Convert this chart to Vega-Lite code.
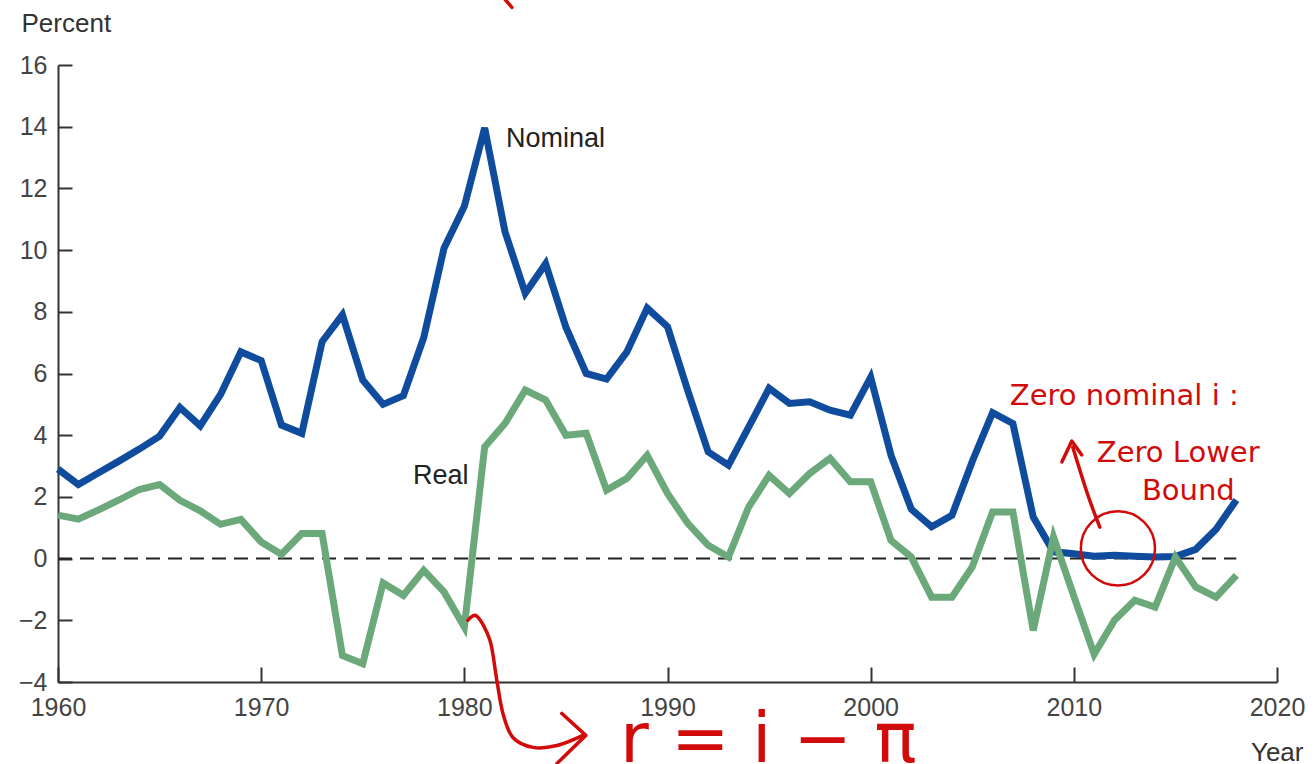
{
  "$schema": "https://vega.github.io/schema/vega-lite/v6.json",
  "width": 1219,
  "height": 617,
  "autosize": {"type": "none"},
  "padding": {"left": 58, "top": 65, "right": 39, "bottom": 82},
  "background": "white",
  "config": {"view": {"stroke": null}, "font": "Liberation Sans"},
  "datasets": {
    "series": [
      {"year": 1960, "value": 2.9, "series": "Nominal"},
      {"year": 1961, "value": 2.4, "series": "Nominal"},
      {"year": 1962, "value": 2.78, "series": "Nominal"},
      {"year": 1963, "value": 3.16, "series": "Nominal"},
      {"year": 1964, "value": 3.55, "series": "Nominal"},
      {"year": 1965, "value": 3.97, "series": "Nominal"},
      {"year": 1966, "value": 4.9, "series": "Nominal"},
      {"year": 1967, "value": 4.3, "series": "Nominal"},
      {"year": 1968, "value": 5.32, "series": "Nominal"},
      {"year": 1969, "value": 6.7, "series": "Nominal"},
      {"year": 1970, "value": 6.42, "series": "Nominal"},
      {"year": 1971, "value": 4.33, "series": "Nominal"},
      {"year": 1972, "value": 4.06, "series": "Nominal"},
      {"year": 1973, "value": 7.03, "series": "Nominal"},
      {"year": 1974, "value": 7.9, "series": "Nominal"},
      {"year": 1975, "value": 5.79, "series": "Nominal"},
      {"year": 1976, "value": 5.0, "series": "Nominal"},
      {"year": 1977, "value": 5.28, "series": "Nominal"},
      {"year": 1978, "value": 7.16, "series": "Nominal"},
      {"year": 1979, "value": 10.06, "series": "Nominal"},
      {"year": 1980, "value": 11.42, "series": "Nominal"},
      {"year": 1981, "value": 13.96, "series": "Nominal"},
      {"year": 1982, "value": 10.6, "series": "Nominal"},
      {"year": 1983, "value": 8.6, "series": "Nominal"},
      {"year": 1984, "value": 9.56, "series": "Nominal"},
      {"year": 1985, "value": 7.5, "series": "Nominal"},
      {"year": 1986, "value": 6.0, "series": "Nominal"},
      {"year": 1987, "value": 5.82, "series": "Nominal"},
      {"year": 1988, "value": 6.7, "series": "Nominal"},
      {"year": 1989, "value": 8.12, "series": "Nominal"},
      {"year": 1990, "value": 7.52, "series": "Nominal"},
      {"year": 1991, "value": 5.44, "series": "Nominal"},
      {"year": 1992, "value": 3.46, "series": "Nominal"},
      {"year": 1993, "value": 3.03, "series": "Nominal"},
      {"year": 1994, "value": 4.27, "series": "Nominal"},
      {"year": 1995, "value": 5.52, "series": "Nominal"},
      {"year": 1996, "value": 5.03, "series": "Nominal"},
      {"year": 1997, "value": 5.08, "series": "Nominal"},
      {"year": 1998, "value": 4.81, "series": "Nominal"},
      {"year": 1999, "value": 4.65, "series": "Nominal"},
      {"year": 2000, "value": 5.88, "series": "Nominal"},
      {"year": 2001, "value": 3.35, "series": "Nominal"},
      {"year": 2002, "value": 1.6, "series": "Nominal"},
      {"year": 2003, "value": 1.03, "series": "Nominal"},
      {"year": 2004, "value": 1.4, "series": "Nominal"},
      {"year": 2005, "value": 3.15, "series": "Nominal"},
      {"year": 2006, "value": 4.73, "series": "Nominal"},
      {"year": 2007, "value": 4.38, "series": "Nominal"},
      {"year": 2008, "value": 1.35, "series": "Nominal"},
      {"year": 2009, "value": 0.22, "series": "Nominal"},
      {"year": 2010, "value": 0.16, "series": "Nominal"},
      {"year": 2011, "value": 0.08, "series": "Nominal"},
      {"year": 2012, "value": 0.11, "series": "Nominal"},
      {"year": 2013, "value": 0.08, "series": "Nominal"},
      {"year": 2014, "value": 0.05, "series": "Nominal"},
      {"year": 2015, "value": 0.07, "series": "Nominal"},
      {"year": 2016, "value": 0.3, "series": "Nominal"},
      {"year": 2017, "value": 0.95, "series": "Nominal"},
      {"year": 2018, "value": 1.9, "series": "Nominal"},
      {"year": 1960, "value": 1.41, "series": "Real"},
      {"year": 1961, "value": 1.28, "series": "Real"},
      {"year": 1962, "value": 1.58, "series": "Real"},
      {"year": 1963, "value": 1.9, "series": "Real"},
      {"year": 1964, "value": 2.24, "series": "Real"},
      {"year": 1965, "value": 2.4, "series": "Real"},
      {"year": 1966, "value": 1.89, "series": "Real"},
      {"year": 1967, "value": 1.55, "series": "Real"},
      {"year": 1968, "value": 1.11, "series": "Real"},
      {"year": 1969, "value": 1.27, "series": "Real"},
      {"year": 1970, "value": 0.54, "series": "Real"},
      {"year": 1971, "value": 0.14, "series": "Real"},
      {"year": 1972, "value": 0.81, "series": "Real"},
      {"year": 1973, "value": 0.81, "series": "Real"},
      {"year": 1974, "value": -3.14, "series": "Real"},
      {"year": 1975, "value": -3.41, "series": "Real"},
      {"year": 1976, "value": -0.79, "series": "Real"},
      {"year": 1977, "value": -1.19, "series": "Real"},
      {"year": 1978, "value": -0.38, "series": "Real"},
      {"year": 1979, "value": -1.08, "series": "Real"},
      {"year": 1980, "value": -2.22, "series": "Real"},
      {"year": 1981, "value": 3.62, "series": "Real"},
      {"year": 1982, "value": 4.38, "series": "Real"},
      {"year": 1983, "value": 5.46, "series": "Real"},
      {"year": 1984, "value": 5.14, "series": "Real"},
      {"year": 1985, "value": 4.0, "series": "Real"},
      {"year": 1986, "value": 4.06, "series": "Real"},
      {"year": 1987, "value": 2.22, "series": "Real"},
      {"year": 1988, "value": 2.6, "series": "Real"},
      {"year": 1989, "value": 3.35, "series": "Real"},
      {"year": 1990, "value": 2.11, "series": "Real"},
      {"year": 1991, "value": 1.14, "series": "Real"},
      {"year": 1992, "value": 0.43, "series": "Real"},
      {"year": 1993, "value": 0.05, "series": "Real"},
      {"year": 1994, "value": 1.68, "series": "Real"},
      {"year": 1995, "value": 2.7, "series": "Real"},
      {"year": 1996, "value": 2.11, "series": "Real"},
      {"year": 1997, "value": 2.76, "series": "Real"},
      {"year": 1998, "value": 3.25, "series": "Real"},
      {"year": 1999, "value": 2.49, "series": "Real"},
      {"year": 2000, "value": 2.49, "series": "Real"},
      {"year": 2001, "value": 0.59, "series": "Real"},
      {"year": 2002, "value": 0.05, "series": "Real"},
      {"year": 2003, "value": -1.25, "series": "Real"},
      {"year": 2004, "value": -1.25, "series": "Real"},
      {"year": 2005, "value": -0.27, "series": "Real"},
      {"year": 2006, "value": 1.51, "series": "Real"},
      {"year": 2007, "value": 1.51, "series": "Real"},
      {"year": 2008, "value": -2.33, "series": "Real"},
      {"year": 2009, "value": 0.7, "series": "Real"},
      {"year": 2010, "value": -1.22, "series": "Real"},
      {"year": 2011, "value": -3.1, "series": "Real"},
      {"year": 2012, "value": -2.0, "series": "Real"},
      {"year": 2013, "value": -1.35, "series": "Real"},
      {"year": 2014, "value": -1.57, "series": "Real"},
      {"year": 2015, "value": 0.05, "series": "Real"},
      {"year": 2016, "value": -0.92, "series": "Real"},
      {"year": 2017, "value": -1.25, "series": "Real"},
      {"year": 2018, "value": -0.54, "series": "Real"}
    ],
    "zero": [{"year": 1960, "year2": 2018, "value": 0}],
    "labels": [
      {"year": 1982.05, "value": 13.35, "text": "Nominal"},
      {"year": 1977.47, "value": 2.41, "text": "Real"}
    ],
    "curves": [
      {"id": "hook", "seq": 1, "year": 1980.18, "value": -2.0},
      {"id": "hook", "seq": 2, "year": 1980.62, "value": -1.87},
      {"id": "hook", "seq": 3, "year": 1981.26, "value": -2.65},
      {"id": "hook", "seq": 4, "year": 1981.6, "value": -3.95},
      {"id": "hook", "seq": 5, "year": 1981.9, "value": -5.02},
      {"id": "hook", "seq": 6, "year": 1982.39, "value": -5.8},
      {"id": "hook", "seq": 7, "year": 1983.38, "value": -6.12},
      {"id": "hook", "seq": 8, "year": 1984.56, "value": -6.06},
      {"id": "hook", "seq": 9, "year": 1985.84, "value": -5.73},
      {"id": "zlb", "seq": 1, "year": 2011.28, "value": 1.02},
      {"id": "zlb", "seq": 2, "year": 2010.69, "value": 2.06},
      {"id": "zlb", "seq": 3, "year": 2009.95, "value": 3.61},
      {"id": "top", "seq": 1, "year": 1982.0, "value": 18.13},
      {"id": "top", "seq": 2, "year": 1982.34, "value": 17.87}
    ],
    "strokes": [
      {"id": "head1", "seq": 1, "year": 1984.8, "value": -5.02},
      {"id": "head1", "seq": 2, "year": 1985.98, "value": -5.73},
      {"id": "head1", "seq": 3, "year": 1984.56, "value": -6.64},
      {"id": "head2", "seq": 1, "year": 2009.41, "value": 3.13},
      {"id": "head2", "seq": 2, "year": 2009.9, "value": 3.81},
      {"id": "head2", "seq": 3, "year": 2010.39, "value": 3.36}
    ],
    "circle": [{"year": 2012.17, "value": 0.33}],
    "notes": [
      {"year": 2006.85, "value": 4.98, "text": "Zero nominal i :"},
      {"year": 2011.13, "value": 3.13, "text": "Zero Lower"},
      {"year": 2013.35, "value": 1.89, "text": "Bound"}
    ],
    "formula": [{"year": 1987.66, "value": -6.6, "text": "r = i − π"}]
  },
  "encoding": {
    "x": {
      "field": "year",
      "type": "quantitative",
      "scale": {"domain": [1960, 2020], "nice": false, "zero": false},
      "axis": {
        "values": [1960, 1970, 1980, 1990, 2000, 2010, 2020],
        "format": "d",
        "grid": false,
        "domainColor": "#333",
        "domainWidth": 2,
        "tickColor": "#333",
        "tickWidth": 2,
        "tickSize": -15,
        "labelPadding": 28,
        "labelFontSize": 25,
        "labelColor": "#444",
        "labelFont": "Liberation Sans",
        "labelFlush": false,
        "labelOverlap": false,
        "title": "Year",
        "titleFont": "Liberation Sans",
        "titleFontSize": 26,
        "titleFontWeight": "normal",
        "titleColor": "#333",
        "titleX": 1245,
        "titleY": 78,
        "titleAlign": "right",
        "titleBaseline": "alphabetic"
      }
    },
    "y": {
      "field": "value",
      "type": "quantitative",
      "scale": {"domain": [-4, 16], "nice": false, "zero": false},
      "axis": {
        "values": [-4, -2, 0, 2, 4, 6, 8, 10, 12, 14, 16],
        "grid": false,
        "domainColor": "#333",
        "domainWidth": 2,
        "tickColor": "#333",
        "tickWidth": 2,
        "tickSize": -14,
        "labelPadding": 25,
        "labelFontSize": 25,
        "labelColor": "#444",
        "labelFont": "Liberation Sans",
        "labelFlush": false,
        "labelOverlap": false,
        "title": "Percent",
        "titleFont": "Liberation Sans",
        "titleFontSize": 26,
        "titleFontWeight": "normal",
        "titleColor": "#333",
        "titleAngle": 0,
        "titleX": -37,
        "titleY": -34,
        "titleAlign": "left",
        "titleBaseline": "alphabetic"
      }
    }
  },
  "layer": [
    {
      "data": {"name": "zero"},
      "mark": {"type": "rule", "strokeDash": [14, 8], "color": "#222", "strokeWidth": 2},
      "encoding": {"x2": {"field": "year2"}}
    },
    {
      "data": {"name": "series"},
      "mark": {"type": "line", "strokeWidth": 7},
      "encoding": {
        "color": {
          "field": "series",
          "type": "nominal",
          "scale": {"domain": ["Nominal", "Real"], "range": ["#0f4c9e", "#6ba87a"]},
          "legend": null
        }
      }
    },
    {
      "data": {"name": "labels"},
      "mark": {"type": "text", "align": "left", "baseline": "alphabetic", "fontSize": 27, "color": "#222", "font": "Liberation Sans"},
      "encoding": {"text": {"field": "text"}}
    },
    {
      "data": {"name": "curves"},
      "mark": {"type": "line", "interpolate": "cardinal", "color": "#d10a0a", "strokeWidth": 3.5, "strokeCap": "round"},
      "encoding": {"detail": {"field": "id"}, "order": {"field": "seq"}}
    },
    {
      "data": {"name": "strokes"},
      "mark": {"type": "line", "color": "#d10a0a", "strokeWidth": 3.5, "strokeCap": "round", "strokeJoin": "round"},
      "encoding": {"detail": {"field": "id"}, "order": {"field": "seq"}}
    },
    {
      "data": {"name": "circle"},
      "mark": {"type": "point", "shape": "circle", "size": 5500, "filled": false, "color": "#d10a0a", "strokeWidth": 2.5, "opacity": 1}
    },
    {
      "data": {"name": "notes"},
      "mark": {"type": "text", "align": "left", "baseline": "alphabetic", "fontSize": 29, "color": "#d10a0a", "font": "DejaVu Sans"},
      "encoding": {"text": {"field": "text"}}
    },
    {
      "data": {"name": "formula"},
      "mark": {"type": "text", "align": "left", "baseline": "alphabetic", "fontSize": 70, "color": "#d10a0a", "font": "DejaVu Sans"},
      "encoding": {"text": {"field": "text"}}
    }
  ]
}
